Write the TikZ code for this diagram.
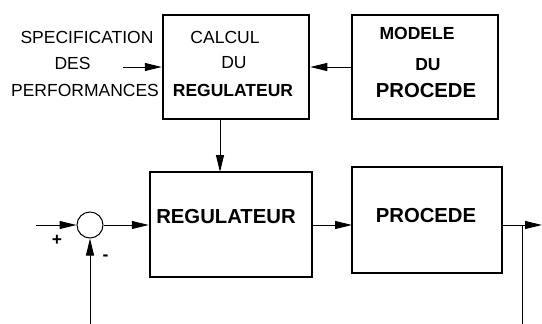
\documentclass[tikz,border=0pt]{standalone}
\usepackage{fontspec}
\setmainfont{Liberation Sans}
\usetikzlibrary{arrows.meta}
\begin{document}
\begin{tikzpicture}[x=1pt,y=-1pt,
  blk/.style={draw,line width=2.5pt,rectangle,inner sep=0pt},
  lbl/.style={inner sep=0pt,font=\fontsize{17.5}{20}\selectfont},
  blbl/.style={inner sep=0pt,font=\fontsize{17.5}{20}\selectfont\bfseries},
  big/.style={inner sep=0pt,font=\fontsize{20.3}{23}\selectfont\bfseries},
  conn/.style={line width=1pt,-{Triangle[length=17pt,width=8pt]}},
  plain/.style={line width=1pt}]
\useasboundingbox (0,0) rectangle (542,324);
% blocks
\node[blk,minimum width=146pt,minimum height=104pt] (calc) at (236,67) {};
\node[blk,minimum width=146pt,minimum height=104pt] (mod) at (425,67) {};
\node[blk,minimum width=162pt,minimum height=105pt] (reg) at (231,224.5) {};
\node[blk,minimum width=150pt,minimum height=106pt] (proc) at (427,220) {};
\node[draw,circle,line width=1pt,minimum size=26pt,inner sep=0pt] (sum) at (90,225) {};
% texts
\node[lbl] (t1) at (87,37) {SPECIFICATION};
\node[lbl] (t2) at (72.5,63) {DES};
\node[lbl] (t3) at (85,90) {PERFORMANCES};
\node[lbl] (t4) at (225,37) {CALCUL};
\node[lbl] (t5) at (234,63) {DU};
\node[blbl] (t6) at (233,90) {REGULATEUR};
\node[blbl] (t7) at (417,33) {MODELE};
\node[blbl] (t8) at (428,65) {DU};
\node[big] (t9) at (426,91) {PROCEDE};
\node[big] (t10) at (226,217) {REGULATEUR};
\node[big] (t11) at (426,216) {PROCEDE};
\node[blbl] (plus) at (57,240) {+};
\node[blbl] (minus) at (105.5,258) {-};
% coordinates
\coordinate (spec) at (123,67);
\coordinate (calcout) at (220,119);
\coordinate (regin) at (220,172);
\coordinate (ref) at (36,225);
\coordinate (fb) at (90,324);
\coordinate (regout) at (312,225);
\coordinate (procin) at (352,225);
\coordinate (procout) at (502,225);
\coordinate (branch) at (522,225);
\coordinate (outend) at (542,225);
\coordinate (fbend) at (522,324);
% connectors
\draw[conn] (spec) -- (calc.west |- spec);
\draw[conn] (mod.west |- spec) -- (calc.east |- spec);
\draw[conn] (calcout) -- (regin);
\draw[conn] (ref) -- (sum.west);
\draw[conn] (fb) -- (sum.south);
\draw[conn] (sum.east) -- (reg.west |- sum.east);
\draw[conn] (regout) -- (procin);
\draw[conn] (procout) -- (outend);
\draw[plain] (branch) -- (fbend);
\end{tikzpicture}
\end{document}
